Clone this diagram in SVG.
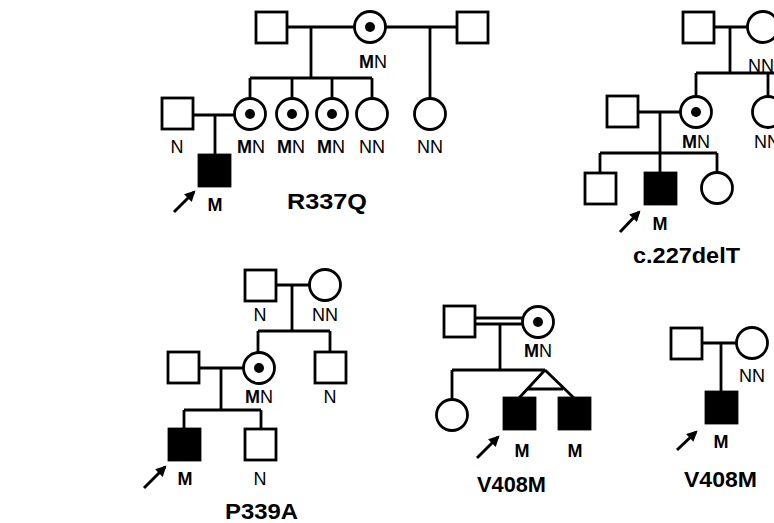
<svg xmlns="http://www.w3.org/2000/svg" width="774" height="523" viewBox="0 0 774 523">
<defs>
<style>
.s{fill:#fff;stroke:#000;stroke-width:2.8}
.f{fill:#000;stroke:#000;stroke-width:2.8}
.d{fill:#000}
.l{fill:none;stroke:#000;stroke-width:2.8}
.t{font-family:"Liberation Sans",Arial,sans-serif;font-size:18px;fill:#000;text-anchor:middle}
.b{font-weight:bold}
.h{font-family:"Liberation Sans",Arial,sans-serif;font-size:22px;font-weight:bold;fill:#000}
.a{fill:none;stroke:#000;stroke-width:3;marker-end:url(#ah)}
</style>
<marker id="ah" viewBox="0 0 10 10" refX="8" refY="5" markerWidth="3.6" markerHeight="3.6" orient="auto" markerUnits="strokeWidth">
<path d="M0,0 L10,5 L0,10 z" fill="#000"/>
</marker>
</defs>
<rect width="774" height="523" fill="#fff"/>

<g id="connectors">
<!-- R337Q -->
<path class="l" d="M287,27H355M385,27H457M311,27V78M250,78H372M250,78V98M292,78V98M332,78V98M372,78V98M430,27V98M193,115H234M215,115V154"/>
<!-- c.227delT -->
<path class="l" d="M714,27H748M730,27V73M696,73H774M696,73V96M768,73V96M638,112H680M660,112V153M600,153H717M600,153V173M660,153V173M717,153V172"/>
<!-- P339A -->
<path class="l" d="M276,285H309M292,285V331M258,331H330M258,331V352M330,331V352M199,368H243M221,368V410M184,410H261M184,410V429M261,410V429"/>
<!-- V408M middle -->
<path class="l" d="M475,318H523M475,324H523" stroke-width="2.2"/>
<path class="l" d="M500,324V370M452,370H545M452,370V399M545,370L519,398M545,370L574,398M527,389H563"/>
<!-- V408M right -->
<path class="l" d="M702,343H736M721,343V392"/>
<!-- arrows -->
<path class="a" d="M174,212L194,192"/>
<path class="a" d="M620,232L639,212"/>
<path class="a" d="M144,488L165,467"/>
<path class="a" d="M477,458L498,437"/>
<path class="a" d="M677,450L696,432"/>
</g>

<g id="r337q">
<g id="r_gf1"><rect class="s" x="256" y="12" width="31" height="31"/></g>
<g id="r_gm"><circle class="s" cx="370" cy="27" r="15.5"/><circle class="d" cx="370" cy="27" r="5"/><text class="t" x="373" y="68"><tspan class="b">M</tspan>N</text></g>
<g id="r_gf2"><rect class="s" x="457" y="12" width="31" height="31"/></g>
<g id="r_f"><rect class="s" x="162" y="98" width="31" height="31"/><text class="t" x="177" y="153">N</text></g>
<g id="r_m"><circle class="s" cx="250" cy="114" r="15.5"/><circle class="d" cx="250" cy="114" r="5"/><text class="t" x="251" y="153"><tspan class="b">M</tspan>N</text></g>
<g id="r_s2"><circle class="s" cx="292" cy="114" r="15.5"/><circle class="d" cx="292" cy="114" r="5"/><text class="t" x="291" y="153"><tspan class="b">M</tspan>N</text></g>
<g id="r_s3"><circle class="s" cx="332" cy="114" r="15.5"/><circle class="d" cx="332" cy="114" r="5"/><text class="t" x="331" y="153"><tspan class="b">M</tspan>N</text></g>
<g id="r_s4"><circle class="s" cx="372" cy="114" r="15.5"/><text class="t" x="372" y="153">NN</text></g>
<g id="r_hs"><circle class="s" cx="430" cy="114" r="15.5"/><text class="t" x="430" y="153">NN</text></g>
<g id="r_p"><rect class="f" x="199" y="155" width="31" height="31"/><text class="t b" x="215" y="211">M</text></g>
<text class="h" x="287" y="209" textLength="80" lengthAdjust="spacingAndGlyphs">R337Q</text>
</g>

<g id="c227delt">
<g id="c_gf"><rect class="s" x="683" y="12" width="31" height="31"/></g>
<g id="c_gm"><circle class="s" cx="763" cy="27" r="15.5"/><text class="t" x="748" y="72" style="text-anchor:start">NN</text></g>
<g id="c_f"><rect class="s" x="607" y="96" width="31" height="31"/></g>
<g id="c_m"><circle class="s" cx="696" cy="112" r="15.5"/><circle class="d" cx="696" cy="112" r="5"/><text class="t" x="696" y="148"><tspan class="b">M</tspan>N</text></g>
<g id="c_a"><circle class="s" cx="768" cy="112" r="15.5"/><text class="t" x="754" y="148" style="text-anchor:start">NN</text></g>
<g id="c_b"><rect class="s" x="585" y="173" width="31" height="31"/></g>
<g id="c_p"><rect class="f" x="645" y="173" width="31" height="31"/><text class="t b" x="660" y="230">M</text></g>
<g id="c_s"><circle class="s" cx="717" cy="188" r="15.5"/></g>
<text class="h" x="633" y="263" textLength="107" lengthAdjust="spacingAndGlyphs">c.227delT</text>
</g>

<g id="p339a">
<g id="p_gf"><rect class="s" x="245" y="270" width="31" height="31"/><text class="t" x="260" y="321">N</text></g>
<g id="p_gm"><circle class="s" cx="325" cy="285" r="15.5"/><text class="t" x="325" y="321">NN</text></g>
<g id="p_f"><rect class="s" x="168" y="352" width="31" height="31"/></g>
<g id="p_m"><circle class="s" cx="259" cy="368" r="15.5"/><circle class="d" cx="259" cy="368" r="5"/><text class="t" x="259" y="403"><tspan class="b">M</tspan>N</text></g>
<g id="p_u"><rect class="s" x="315" y="352" width="31" height="31"/><text class="t" x="330" y="403">N</text></g>
<g id="p_p"><rect class="f" x="169" y="429" width="31" height="31"/><text class="t b" x="185" y="485">M</text></g>
<g id="p_b"><rect class="s" x="245" y="429" width="31" height="31"/><text class="t" x="260" y="485">N</text></g>
<text class="h" x="225" y="519" textLength="73" lengthAdjust="spacingAndGlyphs">P339A</text>
</g>

<g id="v408m_a">
<g id="v_f"><rect class="s" x="444" y="306" width="31" height="31"/></g>
<g id="v_m"><circle class="s" cx="538" cy="322" r="15.5"/><circle class="d" cx="538" cy="322" r="5"/><text class="t" x="538" y="357"><tspan class="b">M</tspan>N</text></g>
<g id="v_s"><circle class="s" cx="452" cy="415" r="15.5"/></g>
<g id="v_p"><rect class="f" x="504" y="398" width="31" height="31"/><text class="t b" x="522" y="457">M</text></g>
<g id="v_t"><rect class="f" x="559" y="398" width="31" height="31"/><text class="t b" x="575" y="457">M</text></g>
<text class="h" x="477" y="492" textLength="69" lengthAdjust="spacingAndGlyphs">V408M</text>
</g>

<g id="v408m_b">
<g id="w_f"><rect class="s" x="671" y="328" width="31" height="31"/></g>
<g id="w_m"><circle class="s" cx="752" cy="343" r="15.5"/><text class="t" x="752" y="382">NN</text></g>
<g id="w_p"><rect class="f" x="706" y="392" width="31" height="31"/><text class="t b" x="721" y="448">M</text></g>
<text class="h" x="684" y="487" textLength="73" lengthAdjust="spacingAndGlyphs">V408M</text>
</g>
</svg>
